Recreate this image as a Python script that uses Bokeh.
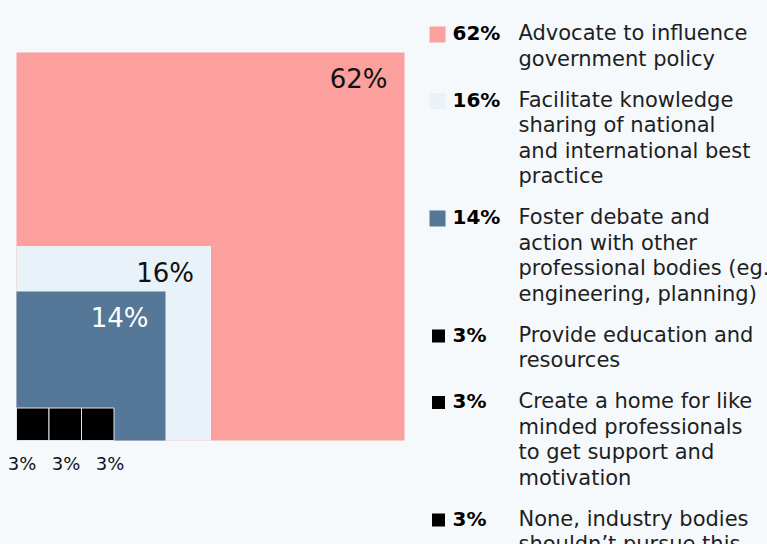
from bokeh.plotting import figure
from bokeh.models import Range1d, ColumnDataSource
from bokeh.embed import file_html
from bokeh.resources import INLINE
from bokeh.core.properties import value

# ---------------- data ----------------
categories = [
    "Advocate to influence\ngovernment policy",
    "Facilitate knowledge\nsharing of national\nand international best\npractice",
    "Foster debate and\naction with other\nprofessional bodies (eg.\nengineering, planning)",
    "Provide education and\nresources",
    "Create a home for like\nminded professionals\nto get support and\nmotivation",
    "None, industry bodies\nshouldn\u2019t pursue this",
]
values = [62, 16, 14, 3, 3, 3]
pct_labels = [f"{v}%" for v in values]
colors = ["#FBA09C", "#EAF2F9", "#557798", "#000000", "#000000", "#000000"]
inner_label_colors = ["#111111", "#111111", "#FFFFFF"]

# ---------------- layout / style ----------------
W, H = 767, 544
BG = "#F5F9FC"
FONT = "DejaVu Sans"
ORIGIN_X, ORIGIN_Y = 16, 440         # bottom-left corner of the nested squares
NEST_SIDES = [388, 194.5, 149]       # drawn side lengths of the nested squares
SMALL_SIDE = 32.5                    # drawn side of each small square
LABEL_DX, LABEL_DY = 17, 26.5
SMALL_LABEL_X0, SMALL_LABEL_STEP, SMALL_LABEL_DY = 21.5, 44, 23

LEG_MARK_X, LEG_PCT_X, LEG_TXT_X = 437, 452, 518
LEG_Y0, LINE_H, ENTRY_GAP = 32.5, 25.5, 15.5

p = figure(width=W, height=H, x_range=Range1d(0, W), y_range=Range1d(H, 0),
           output_backend="svg", toolbar_location=None, min_border=0)
p.axis.visible = False
p.grid.visible = False
p.outline_line_color = None
p.background_fill_color = BG
p.border_fill_color = BG

# nested squares (largest first)
n_nest = len(NEST_SIDES)
nest = ColumnDataSource(dict(
    left=[ORIGIN_X] * n_nest,
    right=[ORIGIN_X + s for s in NEST_SIDES],
    top=[ORIGIN_Y - s for s in NEST_SIDES],
    bottom=[ORIGIN_Y] * n_nest,
    color=colors[:n_nest],
    lx=[ORIGIN_X + s - LABEL_DX for s in NEST_SIDES],
    ly=[ORIGIN_Y - s + LABEL_DY for s in NEST_SIDES],
    label=pct_labels[:n_nest],
    lcolor=inner_label_colors,
))
p.quad(left="left", right="right", top="top", bottom="bottom", source=nest,
       fill_color="color", line_color=None)
p.text(x="lx", y="ly", text="label", source=nest, text_color="lcolor",
       text_align="right", text_baseline="middle", text_font=value(FONT),
       text_font_size="26px")

# small squares in a row
small_idx = list(range(n_nest, len(values)))
small = ColumnDataSource(dict(
    left=[ORIGIN_X + k * SMALL_SIDE for k in range(len(small_idx))],
    right=[ORIGIN_X + (k + 1) * SMALL_SIDE for k in range(len(small_idx))],
    top=[ORIGIN_Y - SMALL_SIDE] * len(small_idx),
    bottom=[ORIGIN_Y] * len(small_idx),
    color=[colors[i] for i in small_idx],
    lx=[SMALL_LABEL_X0 + k * SMALL_LABEL_STEP for k in range(len(small_idx))],
    ly=[ORIGIN_Y + SMALL_LABEL_DY] * len(small_idx),
    label=[pct_labels[i] for i in small_idx],
))
p.quad(left="left", right="right", top="top", bottom="bottom", source=small,
       fill_color="color", line_color="#E3E6EA", line_width=1)
p.text(x="lx", y="ly", text="label", source=small, text_color="#111111",
       text_align="center", text_baseline="middle", text_font=value(FONT),
       text_font_size="18px")

# legend
mx, my, msz, mcol, px_, py_, ptxt = [], [], [], [], [], [], []
tx, ty, ttxt = [], [], []
y = LEG_Y0
for i, cat in enumerate(categories):
    lines = cat.split("\n")
    big = i < n_nest
    mx.append(LEG_MARK_X + (0 if big else 1))
    my.append(y + 1.5)
    msz.append(16 if big else 13)
    mcol.append(colors[i])
    px_.append(LEG_PCT_X)
    py_.append(y)
    ptxt.append(pct_labels[i])
    for j, ln in enumerate(lines):
        tx.append(LEG_TXT_X)
        ty.append(y + j * LINE_H)
        ttxt.append(ln)
    y += len(lines) * LINE_H + ENTRY_GAP

p.rect(x=mx, y=my, width=msz, height=msz, fill_color=mcol, line_color=None)
p.text(x=px_, y=py_, text=ptxt, text_color="#000000", text_align="left",
       text_baseline="middle", text_font=value(FONT), text_font_style="bold",
       text_font_size="20px")
p.text(x=tx, y=ty, text=ttxt, text_color="#1E1E1E", text_align="left",
       text_baseline="middle", text_font=value(FONT), text_font_size="21px")

html = file_html(p, INLINE)
html = html.replace("</head>", f"<style>html,body{{background:{BG};}}</style></head>", 1)
open("out.html", "w").write(html)
